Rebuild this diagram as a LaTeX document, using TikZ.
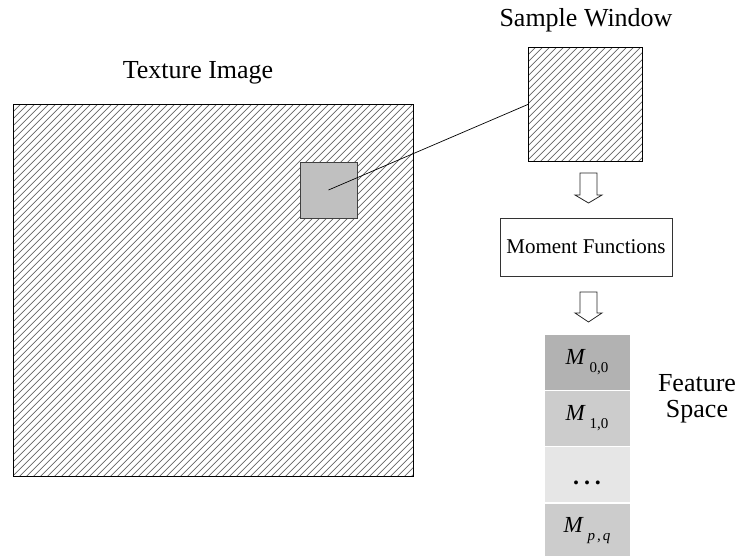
\documentclass[tikz,border=0pt]{standalone}
\usepackage{fontspec}
\setmainfont{Liberation Serif}
\definecolor{hatch}{RGB}{100,100,100}
\definecolor{winfill}{RGB}{192,192,192}
\definecolor{cellA}{RGB}{178,178,178}
\definecolor{cellB}{RGB}{204,204,204}
\definecolor{cellC}{RGB}{230,230,230}
\tikzset{
  framebox/.style={draw=black, line width=0.8pt, inner sep=0pt},
  hatchline/.style={draw=hatch, line width=0.75pt},
  title/.style={font=\fontsize{26}{26}\selectfont, inner sep=0pt},
  fbox/.style={draw=black!80, line width=0.8pt, font=\fontsize{21}{24}\selectfont, minimum width=172pt, minimum height=58pt, inner sep=0pt},
  cell/.style={draw=white, line width=1pt, minimum width=86pt, minimum height=56pt, inner sep=0pt, font=\fontsize{23}{26}\selectfont},
  hollow/.style={draw=black!85, line width=0.8pt, fill=white},
  conn/.style={draw=black, line width=0.7pt}
}
\newcommand{\Msub}[1]{\textit{M}\hspace{4pt}\raisebox{-8pt}{\fontsize{15}{17}\selectfont #1}}
\begin{document}
\begin{tikzpicture}[x=1pt,y=-1pt]
\useasboundingbox (0,0) rectangle (743,555);
% texture image
\node[framebox, minimum width=400pt, minimum height=372pt, anchor=north west] (tex) at (13,104) {};
\begin{scope}
  \clip (tex.south west) rectangle (tex.north east);
  \foreach \s in {-372,-365,...,400}
    \draw[hatchline] ([xshift=\s pt]tex.south west) -- ++(372,-372);
\end{scope}
\node[framebox, minimum width=400pt, minimum height=372pt, anchor=north west] at (13,104) {};
\node[title] (textitle) at (198,73) {Texture Image};
% sample window region in the texture
\node[draw=black!75, line width=0.8pt, fill=winfill, minimum width=57pt, minimum height=56pt, inner sep=0pt] (win) at (328.5,190) {};
% sample window
\node[framebox, minimum width=114pt, minimum height=114pt, anchor=north west] (sw) at (528,47) {};
\begin{scope}
  \clip (sw.south west) rectangle (sw.north east);
  \foreach \s in {-114,-107,...,114}
    \draw[hatchline] ([xshift=\s pt]sw.south west) -- ++(114,-114);
\end{scope}
\node[framebox, minimum width=114pt, minimum height=114pt, anchor=north west] at (528,47) {};
\node[title] (swtitle) at (586,20) {Sample Window};
\draw[conn] (win.center) -- (sw.west);
% hollow arrow 1
\draw[hollow] (580,173) -- (597,173) -- (597,195) -- (602,195) -- (588.5,203) -- (575,195) -- (580,195) -- cycle;
% moment functions
\node[fbox] (mf) at (586,247) {Moment Functions};
% hollow arrow 2
\draw[hollow] (580,292) -- (597,292) -- (597,313) -- (602,313) -- (588.5,322) -- (575,313) -- (580,313) -- cycle;
% feature cells
\node[cell, fill=cellA] (m00) at (587,362) {\Msub{0,0}};
\node[cell, fill=cellB] (m10) at (587,418) {\Msub{1,0}};
\node[cell, fill=cellC] (mdots) at (587,474.5) {\smash{\raisebox{-10pt}{\fontsize{24}{24}\selectfont\textbf{.}\hspace{5pt}\textbf{.}\hspace{5pt}\textbf{.}}}};
\node[cell, fill=cellB] (mpq) at (587,531) {\Msub{\textit{p}\hspace{2pt},\hspace{2pt}\textit{q}}};
% feature space label
\node[title, align=center] (fs) at (697,399) {Feature\\Space};
\end{tikzpicture}
\end{document}
